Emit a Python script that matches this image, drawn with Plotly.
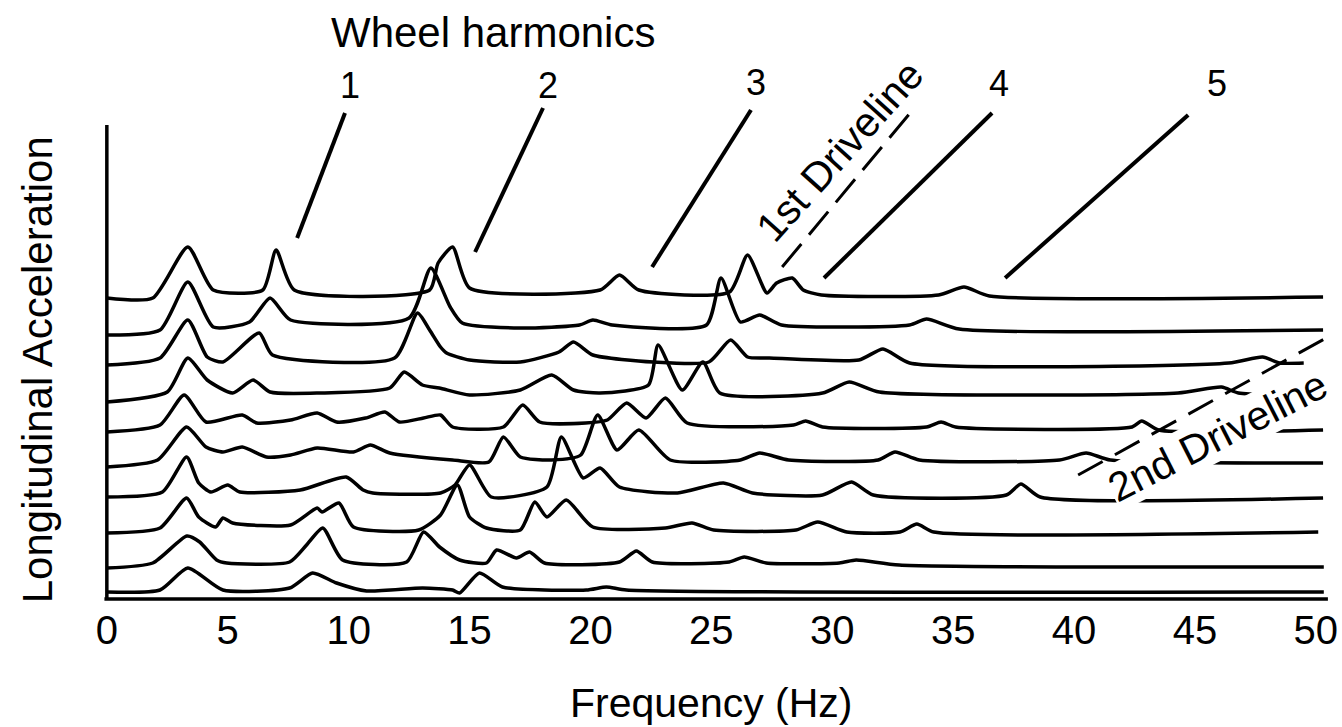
import plotly.graph_objects as go

# Vertical offset of each spectrum (bottom trace first)
offsets = [7, 32, 67, 101, 136, 169, 204, 236, 269, 302]

# Spectra: frequency (Hz) and acceleration amplitude above each trace's baseline
freq_1 = [0, 2.2, 3.35, 4.8, 7.56, 8.51, 9.5, 10.74, 13.06, 14.3, 14.59, 15.41, 16.36, 19.83, 20.66, 21.49, 50.33]
amp_1 = [0, 2, 24, 2, 4, 19, 9, 1, 4, 2, -1, 19, 5, 2, 5, 2, 0]

freq_2 = [0, 1.9, 3.31, 3.84, 4.54, 4.96, 7.56, 8.26, 8.93, 9.75, 12.4, 13.1, 13.76, 14.59, 15.7,
          16.12, 16.94, 17.48, 18.1, 21.2, 21.9, 22.56, 25.74, 26.36, 27.27, 30.29, 30.99, 32.77, 50.33]
amp_2 = [-1, 4, 31, 25, 7, 4, 5, 22, 39, 7, 5, 35, 20, 7, 4,
         17, 9, 15, 4, 5, 16, 5, 5, 10, 4, 4, 7, 2, 0]

freq_3 = [0, 2.2, 3.3, 3.8, 4.5, 4.8, 5.2, 7.6, 8.7, 8.9, 9.6, 10.2, 12.9, 13.8, 14.5, 15.0,
          15.7, 17.1, 17.7, 18.2, 19.0, 20.1, 23.1, 24.2, 25.1, 28.5, 29.4, 30.6, 32.8, 33.5, 34.2, 50.1]
amp_3 = [-1, 4, 34, 15, 5, 14, 9, 7, 24, 20, 29, 5, 2, 17, 47, 15,
         4, 2, 30, 15, 32, 5, 4, 9, 2, 2, 10, 0, 0, 8, 0, 0]

freq_4 = [0, 2.3, 3.3, 3.8, 4.3, 5.0, 5.5, 8.0, 9.9, 10.6, 11.0, 13.8, 14.4, 15.0, 15.9,
          18.2, 18.8, 19.7, 20.4, 21.2, 23.6, 25.5, 26.7, 29.6, 30.8, 31.7, 37.2, 37.8, 38.6, 50.3]
amp_4 = [1, 6, 41, 15, 6, 13, 6, 8, 21, 8, 5, 5, 13, 33, 1,
         11, 61, 20, 30, 11, 5, 15, 5, 3, 16, 3, 3, 14, 1, 0]

freq_5 = [0, 2.1, 3.3, 4.1, 4.8, 5.6, 6.6, 7.6, 8.7, 10.2, 10.9, 11.7, 14.3, 15.8, 16.4, 17.1,
          18.4, 19.6, 20.3, 21.1, 22.0, 23.3, 26.2, 27.0, 28.2, 31.9, 32.6, 33.6, 39.4, 40.5, 41.5, 50.3]
amp_5 = [-4, 3, 36, 16, 11, 16, 6, 8, 15, 11, 18, 10, 3, 1, 26, 6,
         3, 8, 48, 13, 33, 3, 3, 10, 3, 3, 11, 3, 3, 10, 3, 0]

freq_6 = [0, 2.2, 3.2, 4.1, 5.6, 6.2, 7.6, 8.7, 9.5, 10.7, 11.5, 12.1, 13.1, 13.8, 14.3, 16.4, 17.2,
          17.9, 19.8, 20.7, 21.5, 22.3, 23.1, 24.0, 28.4, 28.9, 29.6, 33.9, 34.5, 35.1, 42.4, 42.8, 43.5, 50.3]
amp_6 = [-2, 5, 35, 8, 15, 7, 10, 17, 8, 12, 18, 8, 12, 15, 3, 3, 25,
         8, 7, 10, 27, 12, 32, 7, 5, 9, 3, 3, 8, 3, 3, 9, 0, 0]

freq_7 = [0, 2.5, 3.35, 4.15, 5.2, 6.05, 6.75, 8.8, 11.7, 12.3, 13.05, 13.75, 15.0, 17.1, 18.4,
          19.3, 20.4, 22.4, 22.8, 23.8, 24.65, 25.35, 29.6, 30.7, 31.95, 44.3, 46.1, 46.8, 50.3]
amp_7 = [-7, 3, 37, 15, 2, 15, 3, 2, 7, 23, 10, 7, 0, 5, 20,
         5, 2, 10, 50, 5, 33, 2, 2, 13, 3, 2, 8, 2, 0]

freq_8 = [0, 2.2, 3.35, 4.15, 4.8, 6.3, 6.85, 11.9, 12.85, 13.35, 13.8, 14.05, 15.0, 17.1, 18.7,
          19.3, 20.1, 22.6, 24.9, 25.8, 26.5, 27.4, 31.1, 32.1, 33.2, 46.4, 47.8, 48.5, 49.5]
amp_8 = [-2, 5, 43, 6, 1, 30, 8, 5, 50, 33, 16, 10, 3, 1, 11,
         21, 8, 1, 1, 23, 6, 5, 3, 14, 0, 0, 6, 0, 0]

freq_9 = [0, 2.2, 3.35, 4.4, 5.9, 6.75, 7.6, 12.5, 13.4, 14.2, 14.7, 17.1, 19.55, 20.1, 20.9,
          24.8, 25.4, 26.2, 27.0, 27.9, 33.2, 33.9, 35.25, 50.3]
amp_9 = [-5, 0, 48, 3, 8, 32, 10, 12, 62, 23, 7, 2, 5, 10, 5,
         5, 52, 8, 15, 5, 5, 11, 1, 0]

freq_10 = [0, 1.9, 3.35, 4.4, 6.45, 7.0, 7.75, 13.35, 13.7, 14.3, 15.0, 20.4, 21.2, 22.0,
           25.75, 26.5, 27.3, 27.7, 28.35, 28.8, 29.55, 34.4, 35.45, 36.5, 50.3]
amp_10 = [-1, -1, 50, 7, 7, 47, 7, 7, 34, 50, 9, 7, 22, 7,
          5, 42, 4, 14, 19, 7, 2, 2, 10, 1, 0]

spectra = [(freq_1, amp_1), (freq_2, amp_2), (freq_3, amp_3), (freq_4, amp_4), (freq_5, amp_5),
           (freq_6, amp_6), (freq_7, amp_7), (freq_8, amp_8), (freq_9, amp_9), (freq_10, amp_10)]

# Axis ticks
x_ticks = [0, 5, 10, 15, 20, 25, 30, 35, 40, 45, 50]
y_axis_top = 474
x_axis_end = 50.5

# Wheel harmonic labels and their leader lines (Hz, height)
harmonic_labels = ["1", "2", "3", "4", "5"]
harmonic_label_f = [10.06, 18.25, 26.85, 36.9, 45.91]
harmonic_label_y = [514, 514, 517, 516, 516]
leader_top_f = [9.85, 18.04, 26.64, 36.61, 44.72]
leader_top_y = [486, 491, 489, 486, 484]
leader_end_f = [7.87, 15.23, 22.55, 29.66, 37.15]
leader_end_y = [361, 347, 332, 321, 321]

# Driveline order tracks (dashed)
driveline1_f = [27.93, 33.22]
driveline1_y = [332, 486]
driveline2_f = [40.17, 50.8]
driveline2_y = [124, 266]

FONT = "Liberation Sans, Arial, Helvetica, sans-serif"
INK = "black"

fig = go.Figure()

for (f, a), off in zip(spectra, offsets):
    fig.add_trace(go.Scatter(
        x=f, y=[off + v for v in a], mode="lines",
        line=dict(color=INK, width=3.5, shape="spline", smoothing=0.6),
        hoverinfo="skip", showlegend=False))

# Axis lines
fig.add_trace(go.Scatter(x=[-0.1, x_axis_end], y=[0, 0], mode="lines",
                         line=dict(color=INK, width=3.5), hoverinfo="skip", showlegend=False))
fig.add_trace(go.Scatter(x=[0, 0], y=[0, y_axis_top], mode="lines",
                         line=dict(color=INK, width=3.5), hoverinfo="skip", showlegend=False))

# Leader lines for the wheel harmonics
for i in range(len(harmonic_labels)):
    fig.add_trace(go.Scatter(x=[leader_top_f[i], leader_end_f[i]], y=[leader_top_y[i], leader_end_y[i]],
                             mode="lines", line=dict(color=INK, width=4),
                             hoverinfo="skip", showlegend=False))
    fig.add_annotation(x=harmonic_label_f[i], y=harmonic_label_y[i], text=harmonic_labels[i],
                       showarrow=False, font=dict(family=FONT, size=36, color=INK))

# Driveline tracks
fig.add_trace(go.Scatter(x=driveline1_f, y=driveline1_y, mode="lines",
                         line=dict(color=INK, width=3, dash="30px,12px"),
                         hoverinfo="skip", showlegend=False))
fig.add_trace(go.Scatter(x=driveline2_f, y=driveline2_y, mode="lines",
                         line=dict(color=INK, width=3, dash="28px,14px"),
                         hoverinfo="skip", showlegend=False))

fig.add_annotation(x=15.97, y=567, text="Wheel harmonics", showarrow=False,
                   font=dict(family=FONT, size=42, color=INK))
fig.add_annotation(x=30.32, y=448, text="1st Driveline", showarrow=False, textangle=-48,
                   font=dict(family=FONT, size=41, color=INK))
fig.add_annotation(x=45.95, y=163, text="2nd Driveline", showarrow=False, textangle=-27,
                   bgcolor="white", borderpad=0,
                   font=dict(family=FONT, size=41, color=INK))

# Axis titles (paper coordinates, outside the data range)
fig.add_annotation(xref="paper", yref="paper", x=0.4927, y=-0.166, xanchor="center", yanchor="middle",
                   text="Frequency (Hz)", showarrow=False, font=dict(family=FONT, size=41, color=INK))
fig.add_annotation(xref="paper", yref="paper", x=-0.0525, y=0.386, xanchor="center", yanchor="middle",
                   text="Longitudinal Acceleration", showarrow=False, textangle=-90,
                   font=dict(family=FONT, size=42, color=INK))

fig.update_layout(
    width=1342, height=727,
    margin=dict(l=102, r=2, t=0, b=124),
    paper_bgcolor="white", plot_bgcolor="white",
    showlegend=False,
    xaxis=dict(range=[-0.2, 51.0], tickvals=x_ticks, ticktext=[str(t) for t in x_ticks],
               showgrid=False, zeroline=False, showline=False, ticks="",
               tickfont=dict(family=FONT, size=40, color=INK), fixedrange=True),
    yaxis=dict(range=[-4, 599], visible=False, fixedrange=True),
)

fig.write_html("out.html")
